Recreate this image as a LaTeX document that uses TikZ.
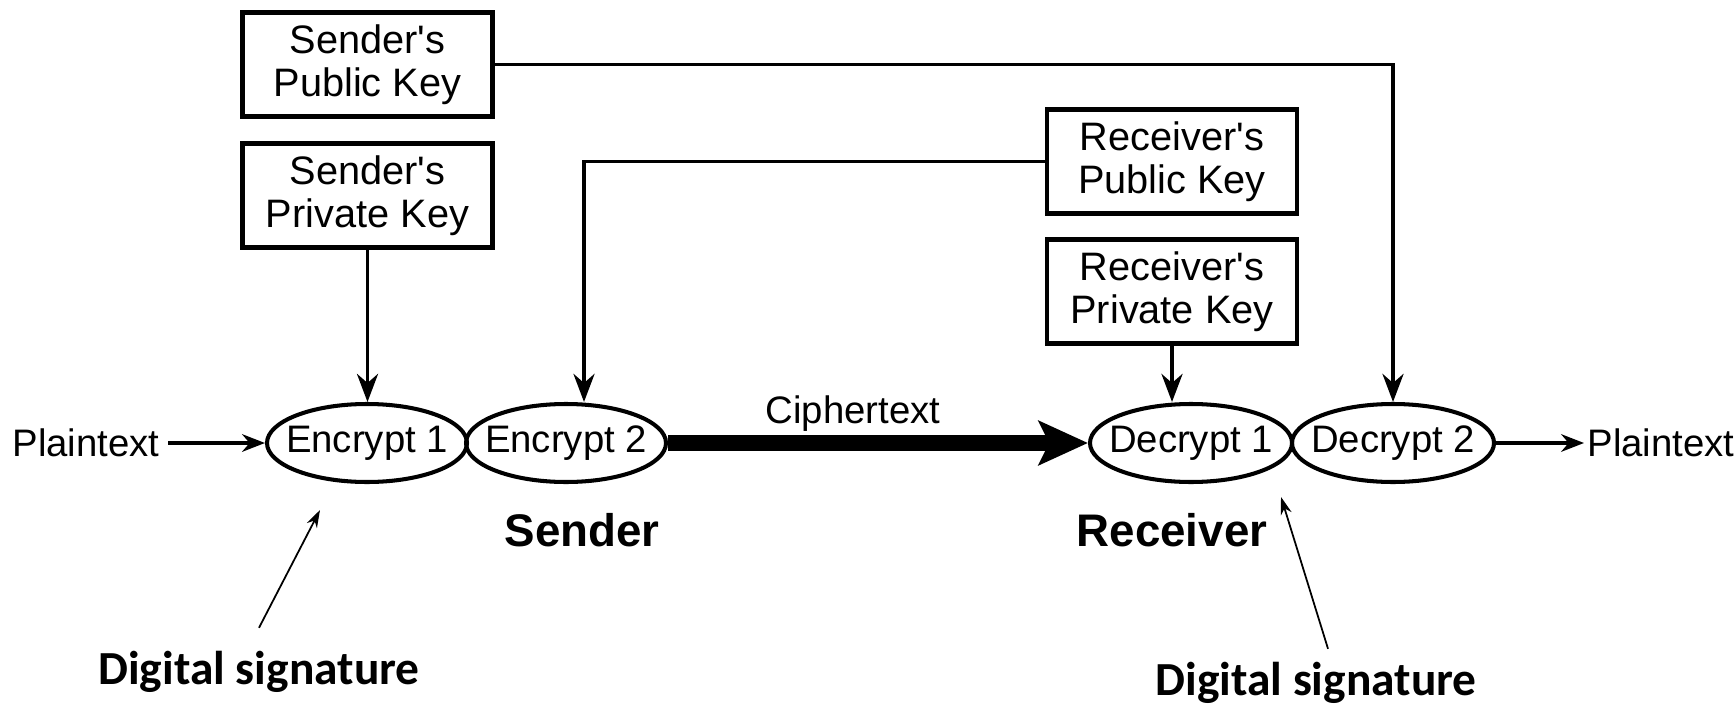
\documentclass[tikz,border=0pt]{standalone}
\usepackage{fontspec}
\setmainfont[Ligatures=TeXOff]{Liberation Sans}
\newfontfamily\sigfont{Carlito}
\usepackage{tikz}
\usetikzlibrary{arrows.meta,shapes.geometric,positioning}

\begin{document}
\begin{tikzpicture}[>={Stealth[length=8pt,width=6pt]}]
		\tikzstyle{keybox} = [draw, line width=1.2pt, minimum width=2.5cm, minimum height=1.04cm, inner sep=0pt, align=center, font=\fontsize{11.3}{12.2}\selectfont]
		\tikzstyle{oval} = [draw, ellipse, line width=1.15pt, minimum width=2.0cm, minimum height=0.78cm, inner xsep=-3pt, inner ysep=0pt, font=\fontsize{10.9}{13}\selectfont]
		\tikzstyle{plain} = [inner sep=2pt, font=\fontsize{10.9}{13}\selectfont]
		\tikzstyle{side} = [font=\fontsize{13}{15}\selectfont\bfseries]
		\tikzstyle{sig} = [font=\fontsize{13.5}{16}\sigfont\bfseries]
		\tikzstyle{flow} = [->, line width=1pt, >={Stealth[length=6.5pt,width=5pt]}]
		\tikzstyle{cipher} = [line width=4.8pt, -{Stealth[length=14pt,width=12.5pt,inset=3pt]}]
		\tikzstyle{sigline} = [line width=0.5pt, -{Stealth[length=5pt,width=3.2pt]}]

		\useasboundingbox (0,0) rectangle (17.36,7.04);

		\begin{scope}[]
		\path[->, line width=1.05pt]

		node[keybox] (spub) at (3.675,6.395) {Sender's\\Public Key}
		node[keybox] (spriv) at (3.675,5.085) {Sender's\\Private Key}
		node[keybox] (rpub) at (11.72,5.425) {Receiver's\\Public Key}
		node[keybox] (rpriv) at (11.72,4.125) {Receiver's\\Private Key}

		node[oval] (enc1) at (3.67,2.61) {Encrypt 1}
		node[oval] (enc2) at (5.66,2.61) {Encrypt 2}
		node[oval] (dec1) at (11.91,2.61) {Decrypt 1}
		node[oval] (dec2) at (13.93,2.61) {Decrypt 2}

		node[plain] (ptin) at (0.86,2.61) {Plaintext}
		node[plain, anchor=west, inner sep=0.5pt] (ptout) at (15.84,2.61) {Plaintext}
		node[plain] (ctext) at (8.53,2.90) {Ciphertext}
		node[side] (sender) at (5.82,1.74) {Sender}
		node[side] (receiver) at (11.72,1.74) {Receiver}
		node[sig] (dsl) at (2.59,0.32) {Digital signature}
		node[sig] (dsr) at (13.16,0.21) {Digital signature}

		(spriv) edge (spriv.south |- enc1.north)
		(rpriv) edge (rpriv.south |- dec1.north)
		(ptin) edge[flow] (enc1)
		(dec2) edge[flow] (ptout)
		(enc2) edge[cipher] (dec1)
		;

		% keys sent across
		\draw[->, line width=1.05pt] (spub.east) -| (dec2.north);
		\draw[->, line width=1.05pt] (rpub.west) -| ([xshift=1.8mm]enc2.north);

		% signature pointers
		\coordinate (sigA) at (3.20,1.94);
		\coordinate (sigB) at (12.81,2.07);
		\draw[sigline] ([yshift=1mm]dsl.north) -- (sigA);
		\draw[sigline] ([xshift=1.2mm]dsr.north) -- (sigB);
		\end{scope}

\end{tikzpicture}
\end{document}
